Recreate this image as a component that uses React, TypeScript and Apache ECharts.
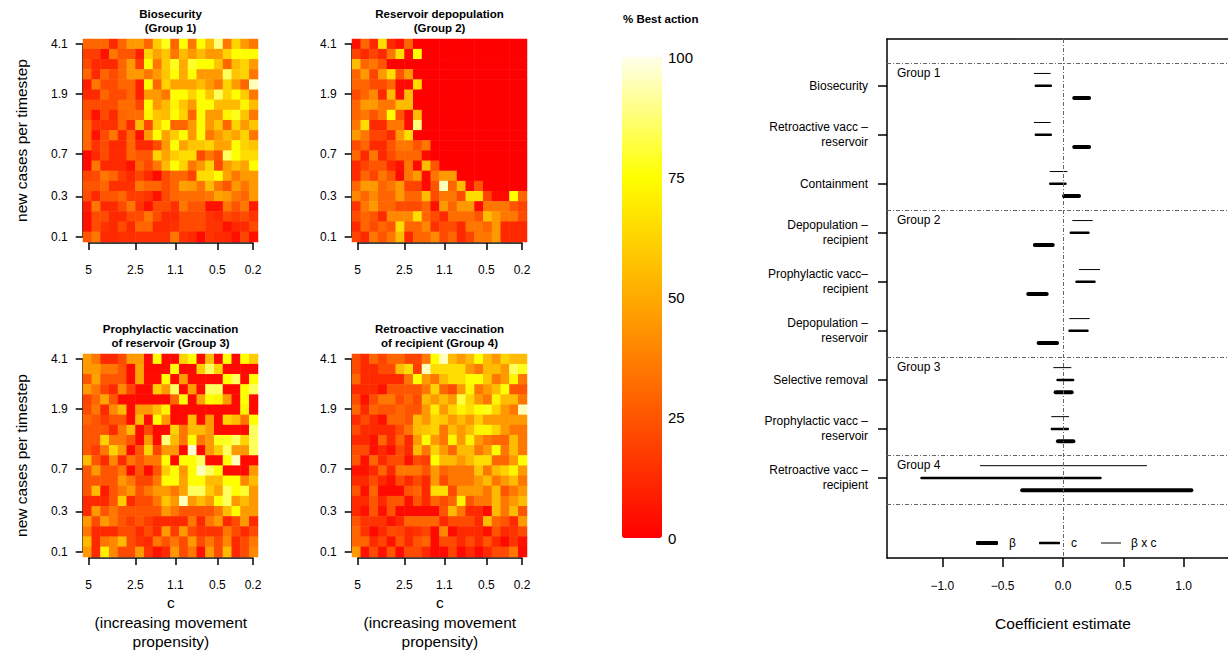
import React, { useEffect, useRef } from 'react';
import * as echarts from 'echarts';

const FONT = '"Liberation Sans", Arial, Helvetica, sans-serif';

// ---- heatmap axes (positions in cell-index units, labels as printed) ----
const X_TICK_POS = [0.15, 5.49, 10.06, 14.86, 18.93];
const X_TICK_LABELS = ['5', '2.5', '1.1', '0.5', '0.2'];
const Y_TICK_POS = [0, 4, 8.2, 14.1, 19];
const Y_TICK_LABELS = ['0.1', '0.3', '0.7', '1.9', '4.1'];

const PANEL_TITLES = [
  'Biosecurity\n(Group 1)',
  'Reservoir depopulation\n(Group 2)',
  'Prophylactic vaccination\nof reservoir (Group 3)',
  'Retroactive vaccination\nof recipient (Group 4)',
];

// % best action, rows listed from top (4.1) to bottom (0.1), columns from c=5 to c=0.2
const BIOSECURITY = [
  [30,30,30,12,30,45,45,30,60,78,30,75,35,75,55,88,35,62,45,35],
  [18,18,5,35,25,25,10,62,48,58,35,55,45,55,45,45,62,75,75,75],
  [22,12,12,12,30,45,18,75,35,60,78,50,80,75,75,58,30,55,62,45],
  [30,12,30,22,30,45,45,35,45,58,75,50,75,45,45,45,85,58,62,35],
  [8,35,22,22,30,30,10,75,30,62,48,48,48,55,45,35,62,45,30,95],
  [12,12,30,22,22,30,10,45,45,35,75,75,62,75,58,85,62,75,60,35],
  [22,22,22,22,32,32,20,75,45,55,72,58,45,75,75,55,55,55,72,55],
  [22,5,22,12,30,32,32,72,58,55,75,62,30,75,45,45,72,78,58,35],
  [30,14,14,14,30,12,55,22,60,75,30,30,45,75,45,58,30,62,45,58],
  [30,5,22,35,12,30,5,45,75,48,60,75,45,75,35,45,55,48,62,35],
  [30,15,22,12,12,30,12,12,22,45,75,48,58,58,62,48,48,75,62,58],
  [3,12,22,12,12,30,25,25,62,48,60,65,65,22,35,25,85,75,65,65],
  [3,35,12,12,12,5,30,22,35,55,75,62,35,45,62,22,45,55,48,75],
  [20,22,35,30,18,12,20,12,3,22,30,30,20,65,65,75,48,35,45,45],
  [25,25,30,14,14,14,35,30,30,22,30,48,45,35,55,35,25,45,35,45],
  [22,12,25,25,30,18,18,15,5,22,30,32,32,32,35,48,45,35,30,45],
  [8,35,12,12,22,35,15,5,22,22,14,35,25,25,5,5,35,25,35,8],
  [5,22,22,12,12,22,22,35,22,12,12,22,22,22,15,12,22,18,22,15],
  [5,22,15,12,22,12,30,30,12,12,14,22,22,22,15,15,5,12,12,22],
  [25,35,12,12,14,14,14,14,14,14,35,15,12,3,15,12,12,5,20,5],
];

const RESERVOIR_DEPOPULATION = [
  [5,30,12,65,12,5,30,0,0,0,0,0,0,0,0,0,0,0,0,0],
  [20,12,20,12,35,65,3,75,0,0,0,0,0,0,0,0,0,0,0,0],
  [55,30,35,25,0,0,0,0,0,0,0,0,0,0,0,0,0,0,0,0],
  [30,45,20,45,65,25,45,0,0,0,0,0,0,0,0,0,0,0,0,0],
  [30,30,22,22,30,3,3,65,0,0,0,0,0,0,0,0,0,0,0,0],
  [22,30,40,12,55,3,55,0,0,0,0,0,0,0,0,0,0,0,0,0],
  [30,45,45,35,35,55,55,0,0,0,0,0,0,0,0,0,0,0,0,0],
  [30,35,25,35,75,25,3,55,0,0,0,0,0,0,0,0,0,0,0,0],
  [35,65,12,12,35,35,3,88,0,0,0,0,0,0,0,0,0,0,0,0],
  [45,35,20,20,12,45,65,0,0,0,0,0,0,0,0,0,0,0,0,0],
  [22,30,12,12,25,35,35,25,35,0,0,0,0,0,0,0,0,0,0,0],
  [30,12,35,12,22,30,30,30,3,0,0,0,0,0,0,0,0,0,0,0],
  [12,20,25,25,12,5,35,3,55,25,0,0,0,0,0,0,0,0,0,0],
  [12,30,20,35,25,3,35,45,3,35,45,45,0,0,0,0,0,0,0,0],
  [30,45,45,30,35,45,20,20,3,25,95,30,55,3,25,0,0,0,0,0],
  [40,30,40,30,30,45,30,30,55,22,35,35,22,65,65,20,3,3,75,30],
  [15,35,45,30,30,22,22,22,30,5,45,30,45,45,3,35,35,35,25,20],
  [22,30,25,12,40,40,40,65,30,22,12,32,32,32,25,55,45,35,35,22],
  [12,30,22,30,25,65,30,30,40,14,22,22,12,35,35,30,45,12,12,12],
  [20,12,35,25,35,55,12,30,30,40,22,30,12,20,35,35,45,12,12,12],
];

const PROPHYLACTIC_RESERVOIR = [
  [45,35,12,12,22,45,45,3,75,3,3,62,75,3,55,3,75,3,75,60],
  [45,45,35,35,25,3,48,3,3,3,75,3,3,60,85,62,3,3,3,3],
  [25,48,25,25,25,3,48,3,3,75,3,45,3,3,3,3,75,85,3,75],
  [45,35,20,12,40,20,3,3,60,45,85,3,45,3,85,85,3,3,75,85],
  [20,30,48,25,3,3,3,3,3,3,30,75,3,48,75,72,45,3,75,3],
  [22,35,12,40,55,3,45,45,55,72,3,3,3,3,3,3,3,3,72,3],
  [30,25,18,25,25,3,55,3,75,45,3,3,55,3,45,3,62,55,35,75],
  [25,25,25,12,35,55,3,22,3,3,62,35,55,55,45,3,3,3,3,85],
  [25,25,62,35,35,25,3,45,3,88,55,35,75,35,45,78,78,85,62,85],
  [25,18,35,62,45,3,25,62,20,45,45,3,97,3,45,60,85,45,45,85],
  [55,25,12,40,12,35,25,35,35,75,3,75,75,85,3,3,75,95,3,3],
  [25,45,25,25,35,3,25,3,25,60,75,45,75,95,85,75,3,3,3,45],
  [25,25,25,25,45,35,20,20,35,75,75,48,75,75,55,55,75,75,40,55],
  [25,55,8,25,35,45,25,35,45,45,35,48,85,85,60,48,85,75,80,45],
  [12,12,12,25,60,12,22,22,35,58,45,95,45,55,45,75,85,45,55,45],
  [12,45,25,35,25,25,25,25,25,45,35,25,25,25,25,35,55,75,45,45],
  [45,22,45,35,25,18,25,18,12,12,12,12,35,12,35,45,12,22,45,12],
  [35,12,12,12,22,22,12,22,12,45,18,45,22,15,15,15,35,22,12,22],
  [55,12,35,40,55,22,15,12,35,25,35,22,45,22,35,22,40,12,22,35],
  [45,12,70,40,22,22,45,15,5,12,45,22,35,5,45,22,55,12,22,40],
];

const RETROACTIVE_RECIPIENT = [
  [22,12,30,20,30,30,20,20,35,75,95,55,45,55,75,55,45,62,55,55],
  [22,12,12,22,22,55,65,18,95,65,65,65,65,45,35,55,55,45,85,78],
  [30,12,12,12,12,12,35,75,45,35,55,65,65,75,75,58,35,45,72,35],
  [12,12,12,5,25,25,25,25,35,62,30,22,45,72,35,45,55,75,25,25],
  [22,5,22,35,35,22,30,22,55,45,55,45,82,62,45,35,72,55,55,35],
  [30,12,30,25,25,30,25,25,45,70,45,62,72,65,75,78,62,45,35,95],
  [12,22,12,5,30,30,25,55,45,62,58,45,55,45,60,45,45,45,45,45],
  [22,12,12,12,12,22,35,55,58,62,35,55,45,55,72,72,62,45,35,35],
  [12,12,5,30,12,30,12,45,75,45,35,72,45,72,45,35,30,30,55,35],
  [22,22,5,12,5,22,12,55,35,62,45,30,55,55,35,45,75,35,55,35],
  [25,5,30,12,22,22,5,22,18,75,55,55,45,55,65,65,30,30,45,75],
  [5,5,12,30,12,35,35,35,25,45,30,35,35,35,58,35,55,62,72,45],
  [12,12,22,12,5,22,12,22,12,45,22,35,35,35,45,55,35,45,55,35],
  [25,5,30,3,3,3,25,30,12,65,65,22,45,45,45,35,55,25,35,45],
  [12,12,25,12,25,25,5,25,12,30,22,30,72,25,35,35,55,35,45,55],
  [12,5,25,5,25,3,3,3,3,3,25,55,35,12,12,3,55,35,55,25],
  [25,15,15,15,5,12,30,30,30,30,12,22,22,22,12,55,30,25,12,45],
  [30,15,3,12,22,20,12,15,20,3,40,3,12,12,12,5,25,12,15,22],
  [30,30,12,20,5,25,12,25,30,3,22,22,12,22,12,25,12,3,15,5],
  [45,5,22,5,25,3,22,22,12,3,3,20,3,12,3,12,22,22,35,3],
];

const HEAT_PANELS = [BIOSECURITY, RESERVOIR_DEPOPULATION, PROPHYLACTIC_RESERVOIR, RETROACTIVE_RECIPIENT];

// ---- colour scale ----
const COLORBAR_TITLE = '% Best action';
const HEAT_COLORS = ['#FF0000', '#FF5500', '#FFAA00', '#FFFF00', '#FFFFEA'];

// ---- coefficient plot ----
const COEF_LABELS = [
  'Biosecurity',
  'Retroactive vacc –\nreservoir',
  'Containment',
  'Depopulation –\nrecipient',
  'Prophylactic vacc–\nrecipient',
  'Depopulation –\nreservoir',
  'Selective removal',
  'Prophylactic vacc –\nreservoir',
  'Retroactive vacc –\nrecipient',
];
const BETA = [
  [0.093, 0.216], [0.093, 0.216], [0.008, 0.133], [-0.233, -0.085], [-0.288, -0.135],
  [-0.202, -0.049], [-0.061, 0.072], [-0.042, 0.086], [-0.338, 1.064],
];
const C_TERM = [
  [-0.225, -0.101], [-0.225, -0.101], [-0.106, 0.02], [0.065, 0.211], [0.112, 0.261],
  [0.054, 0.203], [-0.045, 0.084], [-0.092, 0.04], [-1.172, 0.31],
];
const BETA_X_C = [
  [-0.24, -0.102], [-0.24, -0.102], [-0.11, 0.036], [0.077, 0.246], [0.133, 0.307],
  [0.052, 0.221], [-0.08, 0.069], [-0.097, 0.05], [-0.688, 0.696],
];
const GROUP_NAMES = ['Group 1', 'Group 2', 'Group 3', 'Group 4'];
const GROUP_BOUNDS = [-0.46, 2.54, 5.54, 7.54, 8.53];
const COEF_TICKS = [-1, -0.5, 0, 0.5, 1];

const PANEL_POS = [
  { left: 83, top: 39 },
  { left: 352, top: 39 },
  { left: 83, top: 354 },
  { left: 352, top: 354 },
];
const PW = 175;
const PH = 203;

function buildOption() {
  const idx20 = Array.from({ length: 20 }, (_, i) => String(i));
  const grids: any[] = [];
  const xAxes: any[] = [];
  const yAxes: any[] = [];
  const series: any[] = [];
  const graphics: any[] = [];
  const txt = { color: '#000', fontFamily: FONT };

  PANEL_POS.forEach((p, i) => {
    grids.push({ left: p.left, top: p.top, width: PW, height: PH });
    xAxes.push({ type: 'category', gridIndex: i, data: idx20, show: false });
    yAxes.push({ type: 'category', gridIndex: i, data: idx20, show: false });
    const rows = HEAT_PANELS[i];
    const data: number[][] = [];
    rows.forEach((row, r) => row.forEach((v, c) => data.push([c, 19 - r, v])));
    series.push({
      type: 'heatmap', xAxisIndex: i, yAxisIndex: i, data,
      itemStyle: { borderWidth: 0 }, emphasis: { disabled: true }, progressive: 0,
    });
    graphics.push({
      type: 'text', x: p.left + PW / 2, y: p.top - 32,
      style: { text: PANEL_TITLES[i], align: 'center', verticalAlign: 'top', fontSize: 11.5,
        fontWeight: 'bold', fontFamily: FONT, fill: '#000', lineHeight: 14.3 },
    });
  });

  // overlay axes (R-style, from first to last tick)
  PANEL_POS.forEach((p, i) => {
    const cw = PW / 20;
    const ch = PH / 20;
    const gi = 4 + i;
    grids.push({
      left: p.left + (X_TICK_POS[0] + 0.5) * cw,
      width: (X_TICK_POS[4] - X_TICK_POS[0]) * cw,
      top: p.top + (19.5 - Y_TICK_POS[4]) * ch,
      height: (Y_TICK_POS[4] - Y_TICK_POS[0]) * ch,
    });
    const isBottom = i >= 2;
    const isLeft = i % 2 === 0;
    xAxes.push({
      type: 'value', gridIndex: gi, min: X_TICK_POS[0], max: X_TICK_POS[4], position: 'bottom', offset: 6,
      axisLine: { show: true, onZero: false, lineStyle: { color: '#000', width: 1.5 } },
      axisTick: { show: true, length: 7, customValues: X_TICK_POS, lineStyle: { color: '#000', width: 1.5 } },
      axisLabel: {
        customValues: X_TICK_POS, margin: 21, fontSize: 12, ...txt,
        formatter: (v: number) => X_TICK_LABELS[X_TICK_POS.findIndex((t) => Math.abs(t - v) < 1e-6)] ?? '',
      },
      splitLine: { show: false },
      name: isBottom ? 'c\n(increasing movement\npropensity)' : '',
      nameLocation: 'middle', nameGap: 35,
      nameTextStyle: { fontSize: 15.5, lineHeight: 19.5, ...txt },
    });
    yAxes.push({
      type: 'value', gridIndex: gi, min: Y_TICK_POS[0], max: Y_TICK_POS[4], position: 'left', offset: 6,
      axisLine: { show: true, onZero: false, lineStyle: { color: '#000', width: 1.5 } },
      axisTick: { show: true, length: 7, customValues: Y_TICK_POS, lineStyle: { color: '#000', width: 1.5 } },
      axisLabel: {
        customValues: Y_TICK_POS, margin: 15, fontSize: 12, ...txt,
        formatter: (v: number) => Y_TICK_LABELS[Y_TICK_POS.findIndex((t) => Math.abs(t - v) < 1e-6)] ?? '',
      },
      splitLine: { show: false },
      name: isLeft ? 'new cases per timestep' : '',
      nameLocation: 'middle', nameGap: 53,
      nameTextStyle: { fontSize: 15.5, ...txt },
    });
  });

  // colour bar labels grid (index 8)
  grids.push({ left: 622, top: 57, width: 40, height: 481 });
  xAxes.push({ type: 'value', gridIndex: 8, show: false, min: 0, max: 1 });
  yAxes.push({
    type: 'value', gridIndex: 8, min: 0, max: 100, interval: 25, position: 'right',
    axisLine: { show: false }, axisTick: { show: false }, splitLine: { show: false },
    axisLabel: { fontSize: 15, margin: 6, ...txt },
  });
  graphics.push({
    type: 'text', x: 623, y: 13,
    style: { text: COLORBAR_TITLE, align: 'left', verticalAlign: 'top', fontSize: 11.5,
      fontWeight: 'bold', fontFamily: FONT, fill: '#000' },
  });

  // coefficient plot (grid index 9); the plot box runs past the right edge of the page
  const coefMin = -1.458;
  const coefMax = 1.367;
  grids.push({ left: 887, top: 39, width: 341, height: 519 });
  xAxes.push({
    type: 'value', gridIndex: 9, min: coefMin, max: coefMax, position: 'bottom',
    axisLine: { show: true, onZero: false, lineStyle: { color: '#000', width: 1.5 } },
    axisTick: { show: true, length: 9, customValues: COEF_TICKS, lineStyle: { color: '#000', width: 1.5 } },
    axisLabel: {
      customValues: COEF_TICKS, margin: 22, fontSize: 12, ...txt,
      formatter: (v: number) => (v < 0 ? '\u2212' : '') + Math.abs(v).toFixed(1),
    },
    splitLine: { show: false },
    name: 'Coefficient estimate', nameLocation: 'middle', nameGap: 57,
    nameTextStyle: { fontSize: 15.5, padding: [0, 0, 0, 11], ...txt },
  });
  // top edge of the plot box
  xAxes.push({
    type: 'value', gridIndex: 9, min: coefMin, max: coefMax, position: 'top',
    axisLine: { show: true, onZero: false, lineStyle: { color: '#000', width: 1.5 } },
    axisTick: { show: false }, axisLabel: { show: false }, splitLine: { show: false },
  });
  const coefIdx = COEF_LABELS.map((_, i) => i);
  yAxes.push({
    type: 'value', gridIndex: 9, inverse: true, min: -0.953, max: 9.633, position: 'left',
    axisLine: { show: true, onZero: false, lineStyle: { color: '#000', width: 1.5 } },
    axisTick: { show: true, length: 9, customValues: coefIdx, lineStyle: { color: '#000', width: 1.5 } },
    axisLabel: {
      customValues: coefIdx, margin: 19, fontSize: 12, lineHeight: 15, ...txt,
      formatter: (v: number) => COEF_LABELS[Math.round(v)] ?? '',
    },
    splitLine: { show: false },
  });

  const terms = [
    { name: 'β', data: BETA, offset: 0.25, width: 4, cap: 'round' },
    { name: 'c', data: C_TERM, offset: 0, width: 2.5, cap: 'round' },
    { name: 'β x c', data: BETA_X_C, offset: -0.25, width: 1, cap: 'butt' },
  ];
  terms.forEach((t, k) => {
    const s: any = {
      type: 'custom', name: t.name, xAxisIndex: 9, yAxisIndex: 9, clip: false,
      itemStyle: { color: '#000' },
      encode: { x: [0, 1], y: 2 },
      data: t.data.map((d, i) => [d[0], d[1], i + t.offset]),
      renderItem: (_p: any, api: any) => {
        const a = api.coord([api.value(0), api.value(2)]);
        const b = api.coord([api.value(1), api.value(2)]);
        return {
          type: 'line',
          shape: { x1: a[0], y1: a[1], x2: b[0], y2: b[1] },
          style: { stroke: '#000', lineWidth: t.width, lineCap: t.cap },
        };
      },
    };
    if (k === 2) {
      s.markLine = {
        silent: true, symbol: ['none', 'none'], animation: false,
        lineStyle: { color: '#666', type: [4, 2, 1, 2], width: 1 },
        label: { show: true, position: 'insideStartBottom', formatter: '{b}', fontSize: 12, distance: [10, 4], ...txt },
        data: [
          ...GROUP_BOUNDS.map((b, g) => ({ yAxis: b, name: GROUP_NAMES[g] ?? '', label: { show: g < GROUP_NAMES.length } })),
          { xAxis: 0, name: '', label: { show: false } },
        ],
      };
    }
    series.push(s);
  });

  const legendBase = {
    orient: 'horizontal', padding: 0, top: 537, selectedMode: false,
    textStyle: { fontSize: 12, ...txt },
  };
  const legends = [
    { ...legendBase, left: 976, data: [{ name: 'β', icon: 'roundRect' }], itemWidth: 22, itemHeight: 4,
      textStyle: { ...legendBase.textStyle, padding: [0, 0, 0, 6] } },
    { ...legendBase, left: 1039, data: [{ name: 'c', icon: 'roundRect' }], itemWidth: 21, itemHeight: 2.5,
      textStyle: { ...legendBase.textStyle, padding: [0, 0, 0, 6] } },
    { ...legendBase, left: 1101, data: [{ name: 'β x c', icon: 'rect' }], itemWidth: 20, itemHeight: 1,
      textStyle: { ...legendBase.textStyle, padding: [0, 0, 0, 5] } },
  ];

  return {
    animation: false,
    backgroundColor: '#fff',
    textStyle: { fontFamily: FONT },
    grid: grids,
    xAxis: xAxes,
    yAxis: yAxes,
    legend: legends,
    visualMap: {
      type: 'continuous', min: 0, max: 100, seriesIndex: [0, 1, 2, 3], calculable: false,
      left: 622, top: 57, itemWidth: 40, itemHeight: 481, padding: 0, hoverLink: false,
      inRange: { color: HEAT_COLORS },
    },
    graphic: graphics,
    series,
  };
}

export default function App() {
  const ref = useRef<HTMLDivElement>(null);
  useEffect(() => {
    document.body.style.margin = '0';
    if (!ref.current) return;
    const chart = echarts.init(ref.current, null, { renderer: 'svg' });
    chart.setOption(buildOption() as any);
    return () => chart.dispose();
  }, []);
  return <div ref={ref} style={{ width: 1228, height: 653 }} />;
}
